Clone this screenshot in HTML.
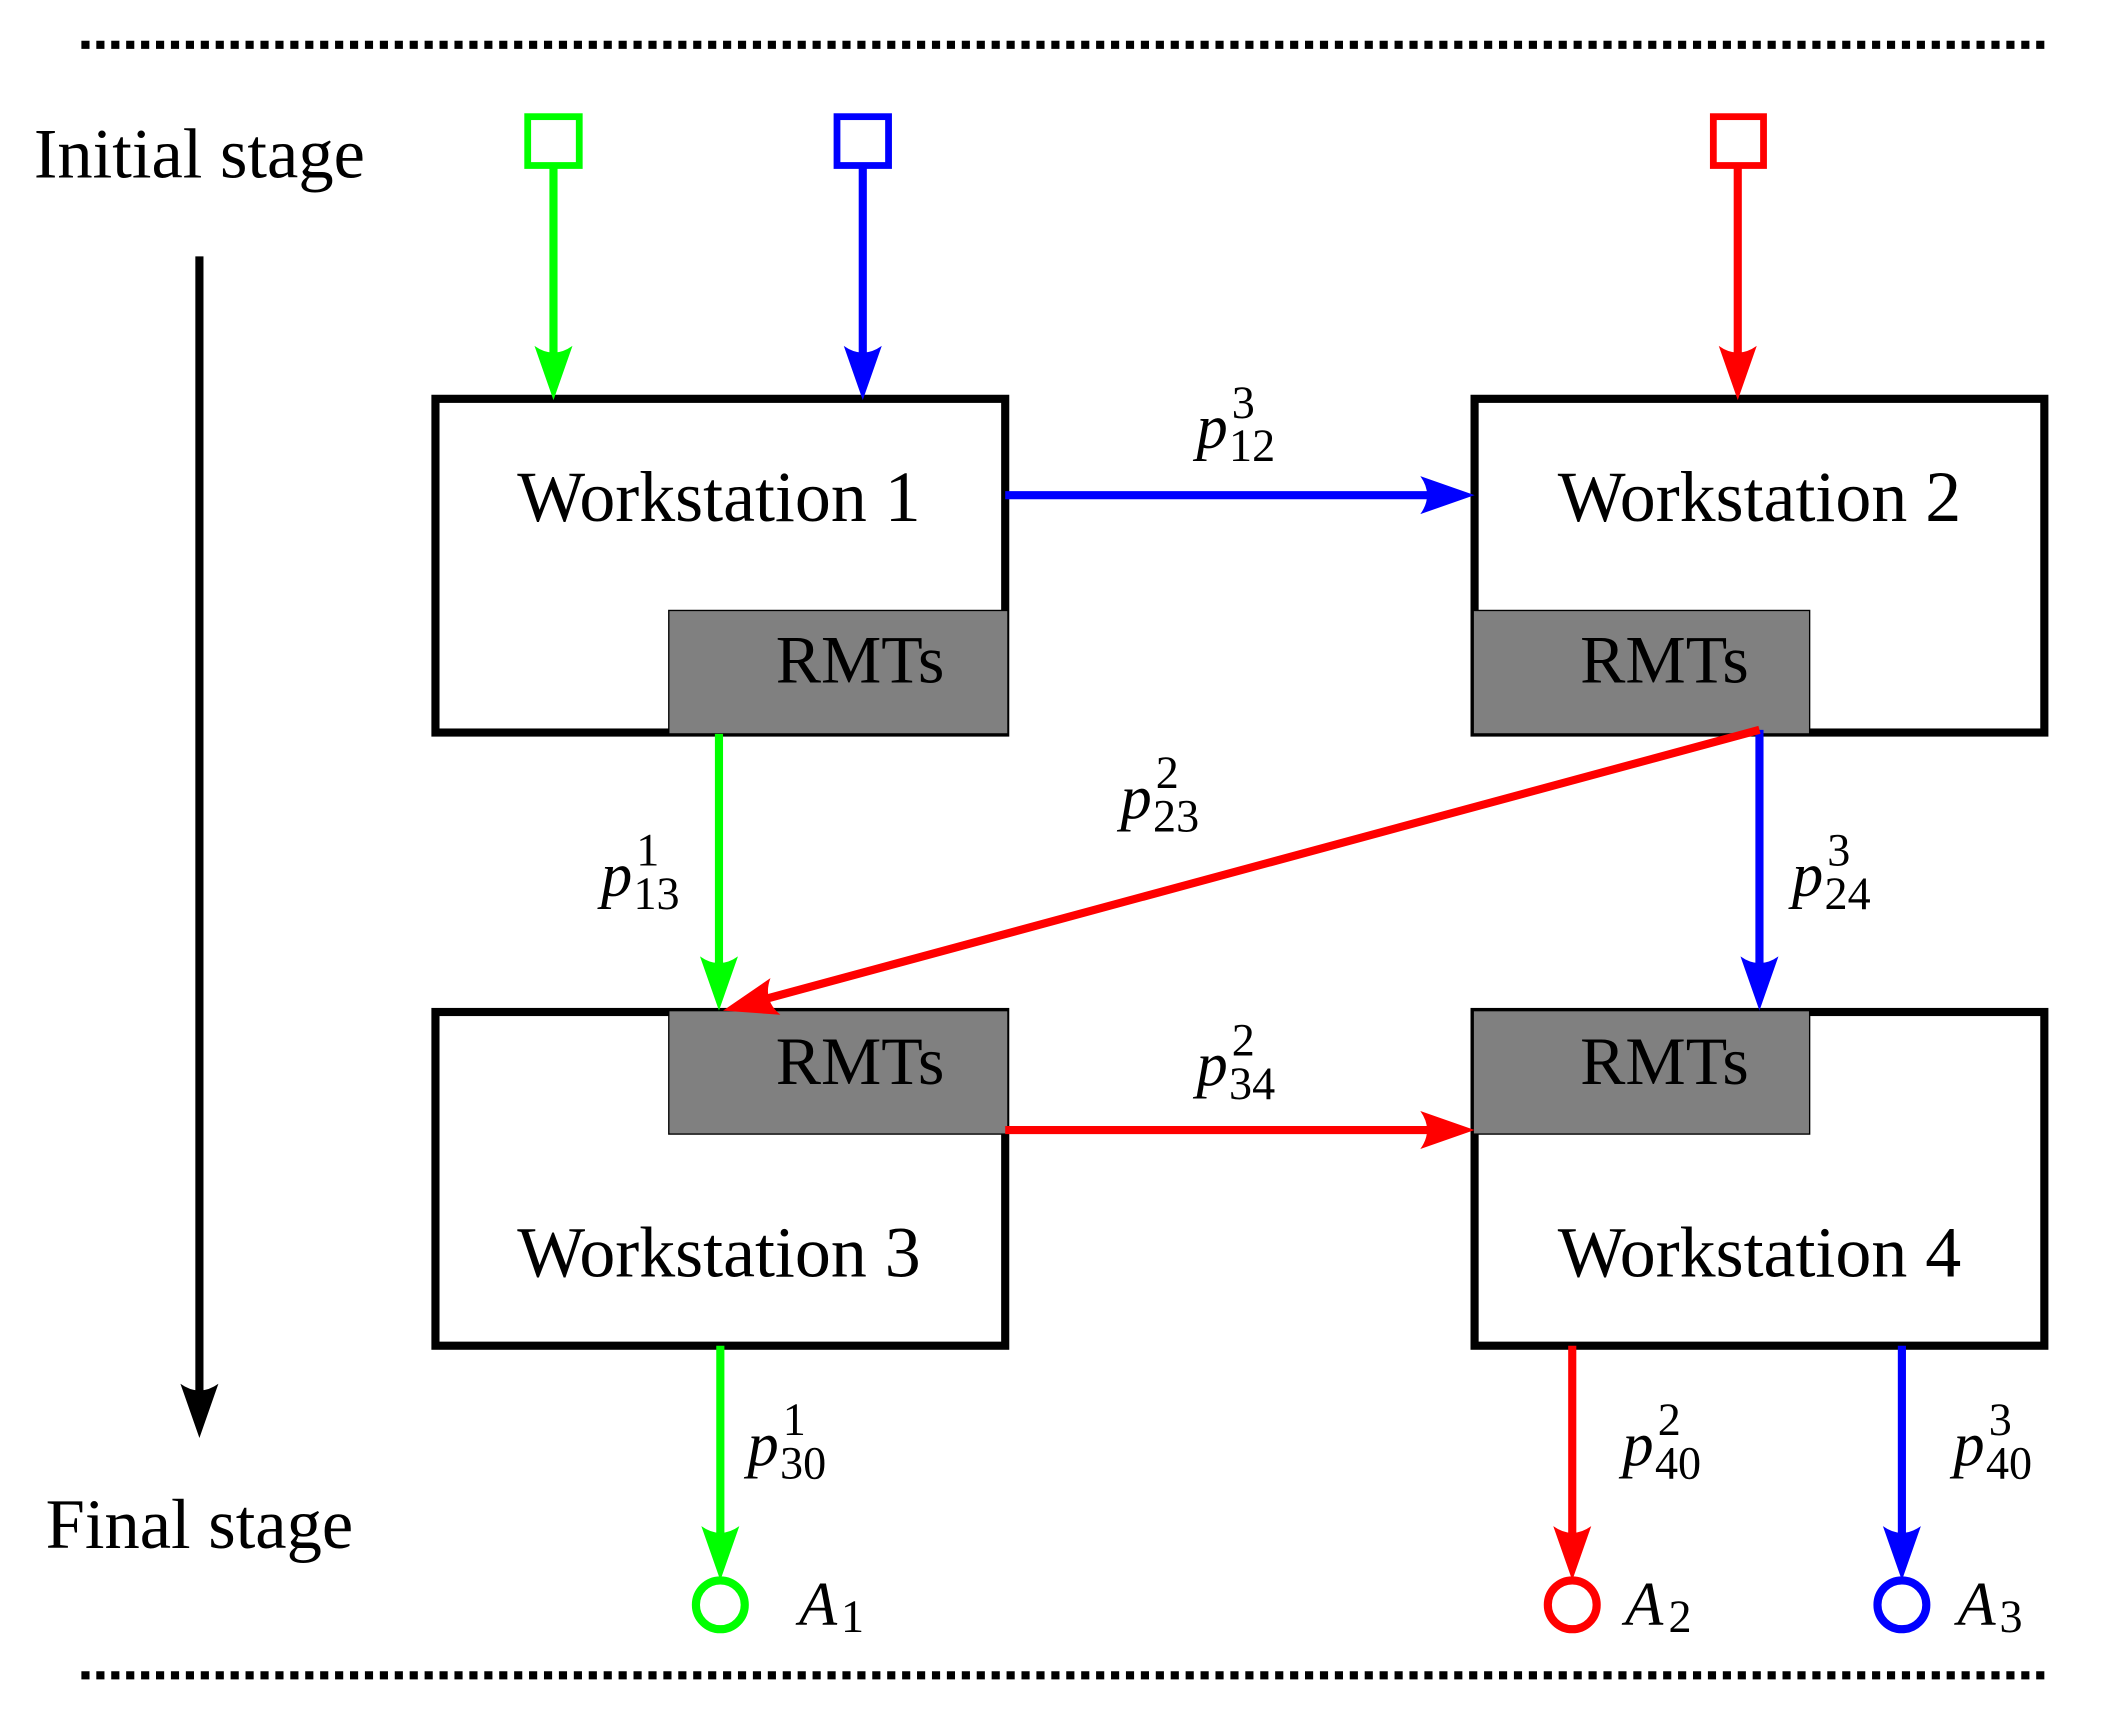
<!DOCTYPE html>
<html><head><style>html,body{margin:0;padding:0;background:#fff}svg{display:block}</style></head>
<body>
<svg width="2126" height="1717" viewBox="0 0 1567.2 1265.7" preserveAspectRatio="none" xmlns="http://www.w3.org/2000/svg" font-family="'Liberation Serif', serif">
<!-- dotted lines -->
<line x1="60" y1="33" x2="1507" y2="33" stroke="#000" stroke-width="6" stroke-dasharray="6,5"/>
<line x1="60" y1="1235" x2="1507" y2="1235" stroke="#000" stroke-width="6" stroke-dasharray="6,5"/>
<!-- stage labels -->
<text x="147" y="131" font-size="52" text-anchor="middle">Initial stage</text>
<text x="147" y="1141" font-size="52" text-anchor="middle">Final stage</text>
<line x1="147" y1="189" x2="147" y2="1030" stroke="#000" stroke-width="6"/>
<path d="M147,1060 L133,1020 Q147,1030 161,1020 Z" fill="#000"/>
<!-- boxes -->
<g fill="none" stroke="#000" stroke-width="6">
<rect x="321" y="294" width="420" height="246"/>
<rect x="1087" y="294" width="420" height="246"/>
<rect x="321" y="746" width="420" height="246"/>
<rect x="1087" y="746" width="420" height="246"/>
</g>
<g fill="#808080" stroke="#000" stroke-width="1">
<rect x="493" y="450" width="250" height="91"/>
<rect x="1086" y="450" width="248" height="91"/>
<rect x="493" y="745" width="250" height="91"/>
<rect x="1086" y="745" width="248" height="91"/>
</g>
<g font-size="53" text-anchor="middle">
<text x="530" y="384">Workstation 1</text>
<text x="1297" y="384">Workstation 2</text>
<text x="530" y="941">Workstation 3</text>
<text x="1297" y="941">Workstation 4</text>
</g>
<g font-size="50" text-anchor="middle">
<text x="634" y="503">RMTs</text>
<text x="1227" y="503">RMTs</text>
<text x="634" y="799">RMTs</text>
<text x="1227" y="799">RMTs</text>
</g>
<!-- initial squares -->
<rect x="389" y="86" width="38" height="36" fill="none" stroke="#0f0" stroke-width="5"/>
<rect x="617" y="86" width="38" height="36" fill="none" stroke="#00f" stroke-width="5"/>
<rect x="1263" y="86" width="37" height="36" fill="none" stroke="#f00" stroke-width="5"/>
<line x1="408" y1="122" x2="408" y2="265" stroke="#0f0" stroke-width="6"/>
<path d="M408,295 L394,255 Q408,265 422,255 Z" fill="#0f0"/>
<line x1="636" y1="122" x2="636" y2="265" stroke="#00f" stroke-width="6"/>
<path d="M636,295 L622,255 Q636,265 650,255 Z" fill="#00f"/>
<line x1="1281" y1="122" x2="1281" y2="265" stroke="#f00" stroke-width="6"/>
<path d="M1281,295 L1267,255 Q1281,265 1295,255 Z" fill="#f00"/>
<line x1="741" y1="365" x2="1057" y2="365" stroke="#00f" stroke-width="6"/>
<path d="M1087,365 L1047,351 Q1057,365 1047,379 Z" fill="#00f"/>
<line x1="530" y1="541" x2="530" y2="715" stroke="#0f0" stroke-width="6"/>
<path d="M530,745 L516,705 Q530,715 544,705 Z" fill="#0f0"/>
<line x1="1297" y1="538" x2="1297" y2="715" stroke="#00f" stroke-width="6"/>
<path d="M1297,745 L1283,705 Q1297,715 1311,705 Z" fill="#00f"/>
<line x1="1297" y1="538" x2="562" y2="737" stroke="#f00" stroke-width="6"/>
<g transform="translate(533,745) rotate(164.85)"><path d="M0,0 L-40,-14 Q-30,0 -40,14 Z" fill="#f00"/></g>
<line x1="741" y1="833" x2="1057" y2="833" stroke="#f00" stroke-width="6"/>
<path d="M1087,833 L1047,819 Q1057,833 1047,847 Z" fill="#f00"/>
<line x1="531" y1="992" x2="531" y2="1135" stroke="#0f0" stroke-width="6"/>
<path d="M531,1165 L517,1125 Q531,1135 545,1125 Z" fill="#0f0"/>
<circle cx="531" cy="1183" r="18" fill="none" stroke="#0f0" stroke-width="6"/>
<line x1="1159" y1="992" x2="1159" y2="1135" stroke="#f00" stroke-width="6"/>
<path d="M1159,1165 L1145,1125 Q1159,1135 1173,1125 Z" fill="#f00"/>
<circle cx="1159" cy="1183" r="18" fill="none" stroke="#f00" stroke-width="6"/>
<line x1="1402" y1="992" x2="1402" y2="1135" stroke="#00f" stroke-width="6"/>
<path d="M1402,1165 L1388,1125 Q1402,1135 1416,1125 Z" fill="#00f"/>
<circle cx="1402" cy="1183" r="18" fill="none" stroke="#00f" stroke-width="6"/>
<!-- labels -->
<g font-size="46" font-style="italic">
<text x="882" y="330">p</text><text x="826" y="603">p</text><text x="443" y="660">p</text>
<text x="1321" y="660">p</text><text x="882" y="800">p</text><text x="551" y="1080">p</text>
<text x="1196" y="1080">p</text><text x="1440" y="1080">p</text>
<text x="589" y="1198">A</text><text x="1198" y="1198">A</text><text x="1443" y="1198">A</text>
</g>
<g font-size="34">
<text x="908" y="308">3</text><text x="906" y="340">12</text>
<text x="852" y="581">2</text><text x="850" y="613">23</text>
<text x="469" y="638">1</text><text x="467" y="670">13</text>
<text x="1347" y="638">3</text><text x="1345" y="670">24</text>
<text x="908" y="778">2</text><text x="906" y="810">34</text>
<text x="577" y="1058">1</text><text x="575" y="1090">30</text>
<text x="1222" y="1058">2</text><text x="1220" y="1090">40</text>
<text x="1466" y="1058">3</text><text x="1464" y="1090">40</text>
<text x="620" y="1203">1</text><text x="1230" y="1203">2</text><text x="1474" y="1203">3</text>
</g>
</svg>
</body></html>
